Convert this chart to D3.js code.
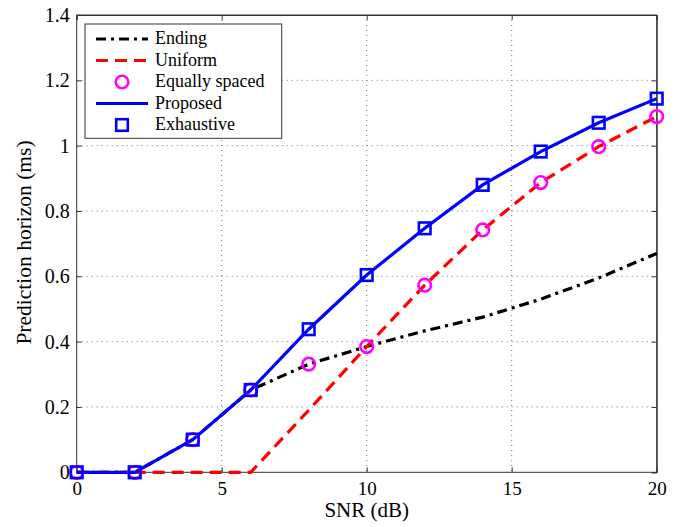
<!DOCTYPE html>
<html><head><meta charset="utf-8">
<script src="https://cdn.jsdelivr.net/npm/d3@7"></script>
</head><body style="margin:0">
<svg id="c" width="688" height="527" font-family="Liberation Serif" style="font-family:'Liberation Serif'"></svg>
<script>
const snr = [0,2,4,6,8,10,12,14,16,18,20];
const ending = [0,0,0.1,0.252,0.331,0.385,0.433,0.475,0.530,0.595,0.670];
const uniform = [0,0,0,0,0.19,0.385,0.573,0.742,0.887,0.997,1.089];
const equallySpaced = [0,0,0.1,0.252,0.331,0.385,0.573,0.742,0.887,0.997,1.089];
const proposed = [0,0,0.1,0.252,0.438,0.604,0.747,0.880,0.982,1.070,1.144];
const exhaustive = [0,0,0.1,0.252,0.438,0.604,0.747,0.880,0.982,1.070,1.144];
const xTicks = [0,5,10,15,20];
const yTicks = [0,0.2,0.4,0.6,0.8,1,1.2,1.4];
const legendLabels = ["Ending","Uniform","Equally spaced","Proposed","Exhaustive"];

const FONT = "Liberation Serif";
const svg = d3.select("#c");
const L=76.7,R=656.7,T=15,B=472.3;
const x = d3.scaleLinear().domain([0,20]).range([L,R]);
const y = d3.scaleLinear().domain([0,1.4]).range([B,T]);

// grid
const g = svg.append("g");
g.selectAll(".gx").data(xTicks.slice(1,-1)).enter().append("line")
 .attr("x1",d=>x(d)).attr("x2",d=>x(d)).attr("y1",T).attr("y2",B)
 .attr("stroke","#777").attr("stroke-width",1).attr("stroke-dasharray","1,4");
g.selectAll(".gy").data(yTicks.slice(1,-1)).enter().append("line")
 .attr("y1",d=>y(d)).attr("y2",d=>y(d)).attr("x1",L).attr("x2",R)
 .attr("stroke","#777").attr("stroke-width",1).attr("stroke-dasharray","1,4");

// axes
const fmt = d=>d3.format("~g")(d);
const ax = svg.append("g").attr("transform",`translate(0,${B})`)
 .call(d3.axisBottom(x).tickValues(xTicks).tickSize(-5).tickPadding(9).tickFormat(fmt));
const ay = svg.append("g").attr("transform",`translate(${L},0)`)
 .call(d3.axisLeft(y).tickValues(yTicks).tickSize(-5).tickPadding(7).tickFormat(fmt));
svg.append("g").attr("transform",`translate(0,${T})`)
 .call(d3.axisTop(x).tickValues(xTicks).tickSize(-5).tickFormat(""));
svg.append("g").attr("transform",`translate(${R},0)`)
 .call(d3.axisRight(y).tickValues(yTicks).tickSize(-5).tickFormat(""));
svg.selectAll(".domain").attr("stroke","#333");
svg.selectAll(".tick line").attr("stroke","#333");
ax.attr("font-family",FONT).attr("font-size",19);
ay.attr("font-family",FONT).attr("font-size",20);
ax.selectAll(".tick text").attr("font-family",FONT).attr("font-size",19).attr("fill","#000");
ay.selectAll(".tick text").attr("font-family",FONT).attr("font-size",20).attr("fill","#000");
ax.selectAll(".domain").remove();
ay.selectAll(".domain").remove();
svg.append("rect").attr("x",L).attr("y",T).attr("width",R-L).attr("height",B-T)
 .attr("fill","none").attr("stroke","#333").attr("stroke-width",1);

// labels
svg.append("text").attr("x",(L+R)/2).attr("y",517).attr("text-anchor","middle").attr("font-family",FONT).attr("font-size",21).text("SNR (dB)");
svg.append("text").attr("transform",`translate(31,242.5) rotate(-90)`).attr("text-anchor","middle").attr("font-family",FONT).attr("font-size",21.5).text("Prediction horizon (ms)");

const line = d3.line().x((d,i)=>x(snr[i])).y(d=>y(d));
const pg = svg.append("g");
pg.append("path").datum(ending).attr("d",line).attr("fill","none").attr("stroke","#000").attr("stroke-width",3.2).attr("stroke-dasharray","10,5,3,5");
pg.append("path").datum(uniform).attr("d",line).attr("fill","none").attr("stroke","#ff0000").attr("stroke-width",3.2).attr("stroke-dasharray","12,7");
pg.append("path").datum(proposed).attr("d",line).attr("fill","none").attr("stroke","#0000ff").attr("stroke-width",3.2);
pg.selectAll(".ci").data(equallySpaced).enter().append("circle")
 .attr("cx",(d,i)=>x(snr[i])).attr("cy",d=>y(d)).attr("r",6.3)
 .attr("fill","none").attr("stroke","#ff00ff").attr("stroke-width",2.6);
pg.selectAll(".sq").data(exhaustive).enter().append("rect")
 .attr("x",(d,i)=>x(snr[i])-5.8).attr("y",d=>y(d)-5.8).attr("width",11.6).attr("height",11.6)
 .attr("fill","none").attr("stroke","#0000ff").attr("stroke-width",2.6);

// legend
const lg = svg.append("g");
lg.append("rect").attr("x",85).attr("y",24).attr("width",196.7).attr("height",114.3)
 .attr("fill","#fff").attr("stroke","#333").attr("stroke-width",1);
const rowY = i=>39+i*21.5;
const styles = [
 {type:"line",stroke:"#000",dash:"10,5,3,5"},
 {type:"line",stroke:"#ff0000",dash:"12,7"},
 {type:"circle"},
 {type:"line",stroke:"#0000ff",dash:null},
 {type:"square"}];
legendLabels.forEach((lab,i)=>{
  const s=styles[i], cy=rowY(i);
  if(s.type==="line"){
    const l=lg.append("line").attr("x1",96).attr("x2",148).attr("y1",cy).attr("y2",cy)
      .attr("stroke",s.stroke).attr("stroke-width",3.2);
    if(s.dash) l.attr("stroke-dasharray",s.dash);
  } else if(s.type==="circle"){
    lg.append("circle").attr("cx",122).attr("cy",cy).attr("r",6.3).attr("fill","none").attr("stroke","#ff00ff").attr("stroke-width",2.6);
  } else {
    lg.append("rect").attr("x",122-5.8).attr("y",cy-5.8).attr("width",11.6).attr("height",11.6).attr("fill","none").attr("stroke","#0000ff").attr("stroke-width",2.6);
  }
  lg.append("text").attr("x",155).attr("y",cy+5.3).attr("font-family",FONT).attr("font-size",18).text(lab);
});
</script></body></html>
